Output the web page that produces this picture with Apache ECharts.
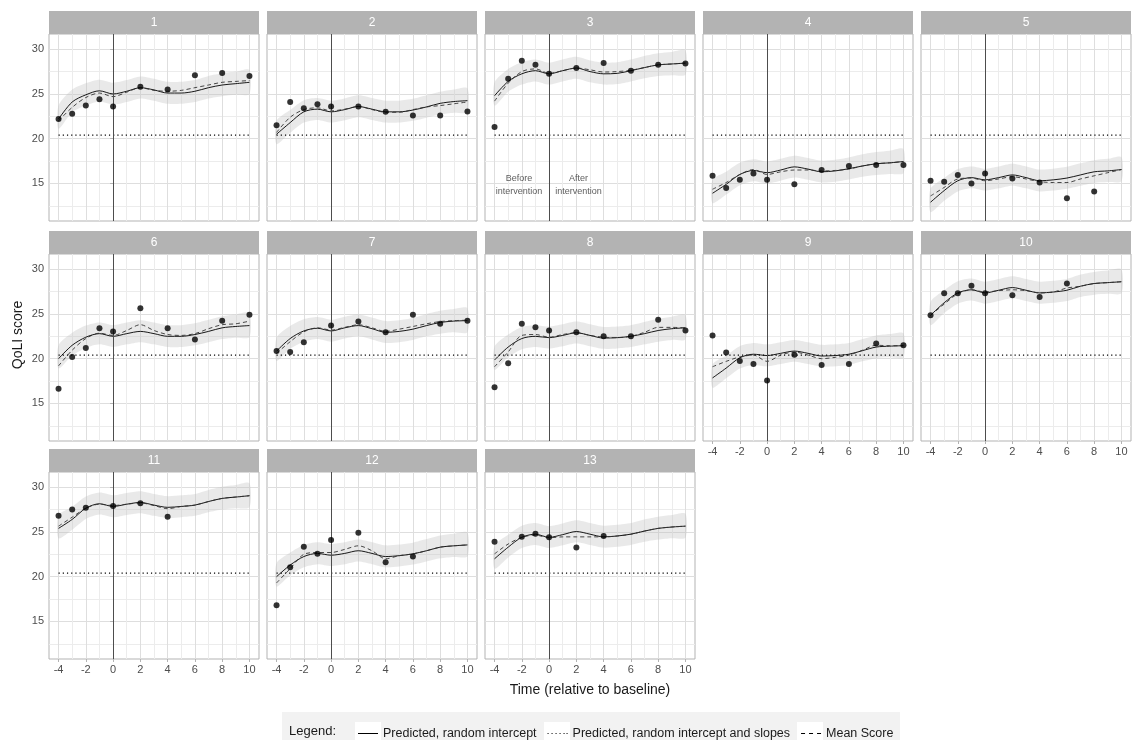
<!DOCTYPE html>
<html>
<head>
<meta charset="utf-8">
<script src="https://cdn.jsdelivr.net/npm/echarts@6/dist/echarts.min.js"></script>
<style>
  html, body { margin: 0; padding: 0; background: #fff; }
  #chart { width: 1132px; height: 740px; }
</style>
</head>
<body>
<div id="chart"></div>
<script>
// facet labels and time grid
const panels = ['1', '2', '3', '4', '5', '6', '7', '8', '9', '10', '11', '12', '13'];
const times = [-4, -3, -2, -1, 0, 1, 2, 3, 4, 5, 6, 7, 8, 9, 10];
const xMajor = [-4, -2, 0, 2, 4, 6, 8, 10];
const xMinor = [-3, -1, 1, 3, 5, 7, 9];
const yMajor = [15, 20, 25, 30];
const yMinor = [12.5, 17.5, 22.5, 27.5];

// Predicted, random intercept (solid)
const predRI = [
  [22.2, 24.1, 24.9, 25.35, 25.0, 25.3, 25.7, 25.45, 25.1, 25.1, 25.3, 25.7, 26.0, 26.15, 26.3],
  [20.5, 21.8, 23.0, 23.3, 23.0, 23.25, 23.6, 23.3, 23.0, 23.0, 23.2, 23.55, 23.95, 24.15, 24.25],
  [24.8, 26.4, 27.25, 27.6, 27.25, 27.6, 27.9, 27.5, 27.25, 27.3, 27.6, 27.95, 28.25, 28.35, 28.45],
  [13.9, 14.9, 16.0, 16.45, 16.2, 16.5, 16.85, 16.6, 16.3, 16.4, 16.65, 16.95, 17.2, 17.3, 17.45],
  [12.9, 14.2, 15.3, 15.65, 15.4, 15.65, 15.95, 15.65, 15.3, 15.4, 15.6, 15.95, 16.3, 16.4, 16.55],
  [20.0, 21.5, 22.4, 22.8, 22.5, 22.8, 23.05, 22.8, 22.5, 22.5, 22.7, 23.05, 23.45, 23.6, 23.7],
  [20.85, 22.25, 23.1, 23.4, 23.1, 23.45, 23.7, 23.35, 22.95, 23.05, 23.3, 23.7, 24.05, 24.2, 24.25],
  [19.85, 21.3, 22.25, 22.5, 22.35, 22.6, 22.9, 22.6, 22.3, 22.35, 22.5, 22.8, 23.15, 23.35, 23.45],
  [17.85, 18.95, 20.1, 20.5, 20.35, 20.6, 20.85, 20.6, 20.3, 20.35, 20.5, 20.9, 21.3, 21.4, 21.45],
  [24.85, 26.25, 27.35, 27.7, 27.35, 27.65, 27.95, 27.65, 27.35, 27.45, 27.65, 28.1, 28.4, 28.5, 28.6],
  [25.4, 26.4, 27.65, 28.15, 27.85, 28.1, 28.3, 28.0, 27.75, 27.85, 28.0, 28.4, 28.75, 28.9, 29.05],
  [20.0, 21.3, 22.25, 22.6, 22.4, 22.6, 22.9, 22.6, 22.25, 22.35, 22.55, 22.9, 23.3, 23.45, 23.55],
  [22.0, 23.3, 24.4, 24.75, 24.4, 24.7, 25.05, 24.75, 24.45, 24.55, 24.75, 25.1, 25.4, 25.55, 25.65]
];

// dashed curve
const predRIS = [
  [22.0, 23.5, 24.6, 25.1, 24.7, 25.2, 25.7, 25.4, 25.3, 25.4, 25.7, 26.0, 26.3, 26.4, 26.5],
  [20.7, 22.4, 23.25, 23.45, 23.1, 23.3, 23.6, 23.25, 22.95, 22.95, 23.25, 23.55, 23.7, 23.9, 24.1],
  [24.2, 26.2, 27.5, 27.8, 27.3, 27.6, 27.9, 27.7, 27.45, 27.5, 27.65, 27.95, 28.25, 28.35, 28.45],
  [14.35, 15.1, 16.0, 16.55, 16.0, 16.3, 16.5, 16.5, 16.4, 16.45, 16.6, 16.95, 17.2, 17.3, 17.45],
  [13.6, 14.55, 15.5, 15.6, 15.3, 15.5, 15.75, 15.5, 15.2, 15.1, 15.1, 15.5, 15.85, 16.2, 16.55],
  [19.2, 20.95, 22.25, 22.85, 22.6, 23.15, 23.8, 23.15, 22.7, 22.6, 22.8, 23.35, 23.8, 23.9, 24.2],
  [20.6, 21.9, 23.0, 23.45, 23.2, 23.5, 23.8, 23.45, 23.05, 23.3, 23.6, 23.9, 24.15, 24.25, 24.3],
  [19.1, 20.75, 22.6, 22.7, 22.4, 22.7, 22.9, 22.6, 22.4, 22.35, 22.5, 22.95, 23.5, 23.5, 23.45],
  [19.1, 19.7, 20.2, 20.4, 19.7, 20.4, 20.75, 20.4, 20.0, 20.15, 20.4, 20.95, 21.5, 21.45, 21.45],
  [24.85, 26.1, 27.25, 27.7, 27.45, 27.6, 27.7, 27.6, 27.35, 27.45, 27.9, 28.1, 28.4, 28.5, 28.6],
  [25.65, 26.65, 27.65, 28.1, 27.95, 28.1, 28.25, 27.95, 27.6, 27.85, 28.0, 28.4, 28.75, 28.9, 29.05],
  [19.3, 20.9, 22.5, 22.7, 22.7, 23.05, 23.45, 22.9, 22.0, 22.35, 22.55, 22.9, 23.3, 23.45, 23.55],
  [22.55, 23.65, 24.4, 24.65, 24.35, 24.45, 24.45, 24.45, 24.45, 24.55, 24.75, 25.1, 25.4, 25.55, 25.65]
];

// confidence band, relative to the solid curve
const ribbonLo = [-1.1, -1.15, -1.2, -1.2, -1.2, -1.2, -1.2, -1.2, -1.2, -1.2, -1.2, -1.2, -1.25, -1.25, -1.3];
const ribbonHi = [1.5, 1.4, 1.3, 1.25, 1.25, 1.25, 1.25, 1.25, 1.25, 1.25, 1.25, 1.3, 1.3, 1.35, 1.4];

// observed scores
const obsTimes = [
  [-4, -3, -2, -1, 0, 2, 4, 6, 8, 10],
  [-4, -3, -2, -1, 0, 2, 4, 6, 8, 10],
  [-4, -3, -2, -1, 0, 2, 4, 6, 8, 10],
  [-4, -3, -2, -1, 0, 2, 4, 6, 8, 10],
  [-4, -3, -2, -1, 0, 2, 4, 6, 8],
  [-4, -3, -2, -1, 0, 2, 4, 6, 8, 10],
  [-4, -3, -2, 0, 2, 4, 6, 8, 10],
  [-4, -3, -2, -1, 0, 2, 4, 6, 8, 10],
  [-4, -3, -2, -1, 0, 2, 4, 6, 8, 10],
  [-4, -3, -2, -1, 0, 2, 4, 6],
  [-4, -3, -2, 0, 2, 4],
  [-4, -3, -2, -1, 0, 2, 4, 6],
  [-4, -2, -1, 0, 2, 4]
];
const obsScores = [
  [22.2, 22.8, 23.7, 24.4, 23.6, 25.8, 25.5, 27.1, 27.35, 27.0],
  [21.5, 24.1, 23.4, 23.85, 23.6, 23.6, 23.0, 22.6, 22.6, 23.05],
  [21.3, 26.7, 28.7, 28.25, 27.25, 27.9, 28.45, 27.6, 28.25, 28.4],
  [15.85, 14.5, 15.4, 16.1, 15.4, 14.9, 16.5, 16.95, 17.05, 17.05],
  [15.3, 15.2, 15.95, 15.0, 16.1, 15.55, 15.1, 13.35, 14.1],
  [16.65, 20.2, 21.2, 23.4, 23.05, 25.65, 23.4, 22.15, 24.25, 24.9],
  [20.85, 20.75, 21.85, 23.7, 24.15, 22.95, 24.9, 23.9, 24.25],
  [16.8, 19.5, 23.9, 23.5, 23.15, 22.95, 22.5, 22.5, 24.35, 23.15],
  [22.6, 20.7, 19.75, 19.4, 17.55, 20.45, 19.3, 19.4, 21.7, 21.5],
  [24.85, 27.3, 27.3, 28.15, 27.3, 27.1, 26.9, 28.4],
  [26.8, 27.5, 27.7, 27.9, 28.2, 26.7],
  [16.8, 21.05, 23.35, 22.55, 24.1, 24.9, 21.6, 22.25],
  [23.9, 24.45, 24.8, 24.4, 23.25, 24.55]
];

// horizontal dotted reference and intervention start
const refTimes = [-4, 10];
const refScore = 20.4;
const interventionTime = 0;

// annotations in panel 3
const annoTexts = ['Before\nintervention', 'After\nintervention'];
const annoTimes = [-2.2, 2.15];
const annoScore = 14.8;

const legendNames = ['Predicted, random intercept', 'Predicted, random intercept and slopes', 'Mean Score'];
const legendIcons = [
  'path://M0,0h20v1h-20z',
  'path://M0,0h1v1h-1zM4,0h1v1h-1zM8,0h1v1h-1zM12,0h1v1h-1zM16,0h1v1h-1zM19,0h1v1h-1z',
  'path://M0,0h4v1h-4zM8,0h4v1h-4zM16,0h4v1h-4z'
];

const FONT = '"Liberation Sans", Arial, sans-serif';
const colLeft = [49, 267, 485, 703, 921];
const rowTop = [34, 254, 472];
const PW = 210, PH = 187, STRIP = 23;

const grids = [], xAxes = [], yAxes = [], series = [], graphics = [];

panels.forEach((label, i) => {
  const col = i % 5, row = Math.floor(i / 5);
  const left = colLeft[col], top = rowTop[row];
  const showX = i >= 8;
  const showY = col === 0;

  grids.push({ left: left, top: top, width: PW, height: PH, show: true,
    borderColor: '#b3b3b3', borderWidth: 1, backgroundColor: 'transparent' });

  xAxes.push({
    gridIndex: i, type: 'value', min: -4.7, max: 10.7, position: 'bottom',
    axisLine: { show: false },
    axisTick: { show: showX, length: 3, lineStyle: { color: '#b3b3b3' }, customValues: xMajor },
    axisLabel: { show: showX, customValues: xMajor, color: '#4d4d4d', fontSize: 11, margin: 5, fontFamily: FONT },
    splitLine: { show: true, lineStyle: { color: '#dedede', width: 1 } }
  });
  xAxes.push({
    gridIndex: i, type: 'value', min: -4.7, max: 10.7, position: 'bottom',
    axisLine: { show: false },
    axisTick: { show: false, customValues: xMinor },
    axisLabel: { show: false, customValues: xMinor },
    splitLine: { show: true, lineStyle: { color: '#ececec', width: 1 } }
  });
  yAxes.push({
    gridIndex: i, type: 'value', min: 10.8, max: 31.7, position: 'left',
    axisLine: { show: false },
    axisTick: { show: showY, length: 3, lineStyle: { color: '#b3b3b3' }, customValues: yMajor },
    axisLabel: { show: showY, customValues: yMajor, color: '#4d4d4d', fontSize: 11, margin: 5, fontFamily: FONT },
    splitLine: { show: true, lineStyle: { color: '#dedede', width: 1 } }
  });
  yAxes.push({
    gridIndex: i, type: 'value', min: 10.8, max: 31.7, position: 'left',
    axisLine: { show: false },
    axisTick: { show: false, customValues: yMinor },
    axisLabel: { show: false, customValues: yMinor },
    splitLine: { show: true, lineStyle: { color: '#ececec', width: 1 } }
  });

  const xi = 2 * i, yi = 2 * i;
  const solid = predRI[i];
  const band = times.map((t, k) => [t, solid[k] + ribbonLo[k], solid[k] + ribbonHi[k]]);

  // ribbon drawn as one polygon through the axis scales
  series.push({
    type: 'custom', xAxisIndex: xi, yAxisIndex: yi, silent: true, z: 1,
    encode: { x: 0, y: [1, 2] },
    data: band,
    renderItem: (params, api) => {
      if (params.dataIndex !== 0) return null;
      const upper = band.map(d => api.coord([d[0], d[2]]));
      const lower = band.map(d => api.coord([d[0], d[1]])).reverse();
      return {
        type: 'polygon',
        shape: { points: upper.concat(lower), smooth: 0.25 },
        style: { fill: 'rgba(190,190,190,0.34)' }
      };
    }
  });

  series.push({
    name: legendNames[0], type: 'line', xAxisIndex: xi, yAxisIndex: yi,
    symbol: 'none', smooth: 0.3, z: 4,
    lineStyle: { color: '#000', width: 0.9, type: 'solid' }, itemStyle: { color: '#000' },
    data: times.map((t, k) => [t, solid[k]]),
    markLine: {
      silent: true, symbol: ['none', 'none'], label: { show: false },
      lineStyle: { color: '#4d4d4d', width: 1, type: 'solid' },
      data: [{ xAxis: interventionTime }]
    }
  });
  series.push({
    name: legendNames[1], type: 'line', xAxisIndex: xi, yAxisIndex: yi,
    symbol: 'none', z: 3,
    lineStyle: { color: '#000', width: 1.2, type: [1.2, 3] }, itemStyle: { color: '#000' },
    data: refTimes.map(t => [t, refScore])
  });
  series.push({
    name: legendNames[2], type: 'line', xAxisIndex: xi, yAxisIndex: yi,
    symbol: 'none', smooth: 0.3, z: 4,
    lineStyle: { color: '#333', width: 0.9, type: [4, 3] }, itemStyle: { color: '#000' },
    data: times.map((t, k) => [t, predRIS[i][k]])
  });
  series.push({
    type: 'scatter', xAxisIndex: xi, yAxisIndex: yi, symbolSize: 6, z: 5,
    itemStyle: { color: '#000' },
    data: obsTimes[i].map((t, k) => [t, obsScores[i][k]])
  });

  if (i === 2) {
    series.push({
      type: 'scatter', xAxisIndex: xi, yAxisIndex: yi, symbolSize: 0, silent: true,
      label: { show: true, position: 'inside', formatter: p => p.name,
        fontSize: 9, lineHeight: 13, color: '#333', fontFamily: FONT, align: 'center' },
      data: annoTexts.map((txt, k) => ({ name: txt, value: [annoTimes[k], annoScore] }))
    });
  }

  // facet strip
  graphics.push({ type: 'rect', shape: { x: left, y: top - STRIP, width: PW, height: STRIP },
    style: { fill: '#b3b3b3' }, silent: true });
  graphics.push({ type: 'text', x: left + PW / 2, y: top - STRIP / 2,
    style: { text: label, fill: '#ffffff', font: '12px ' + FONT, textAlign: 'center', textVerticalAlign: 'middle' } });
});

// axis titles
graphics.push({ type: 'text', x: 18, y: 335, rotation: Math.PI / 2,
  style: { text: 'QoLI score', fill: '#1a1a1a', font: '14px ' + FONT, textAlign: 'center', textVerticalAlign: 'middle' } });
graphics.push({ type: 'text', x: 590, y: 690,
  style: { text: 'Time (relative to baseline)', fill: '#1a1a1a', font: '14px ' + FONT, textAlign: 'center', textVerticalAlign: 'middle' } });

// legend box
graphics.push({ type: 'rect', z: -1, shape: { x: 282, y: 712, width: 618, height: 30 }, style: { fill: '#f2f2f2' }, silent: true });
graphics.push({ type: 'text', x: 289, y: 731,
  style: { text: 'Legend:', fill: '#1a1a1a', font: '13px ' + FONT, textAlign: 'left', textVerticalAlign: 'middle' } });
[355, 544, 797].forEach(x => {
  graphics.push({ type: 'rect', z: -1, shape: { x: x, y: 722, width: 26, height: 18 }, style: { fill: '#ffffff' }, silent: true });
});

const chart = echarts.init(document.getElementById('chart'), null, { renderer: 'canvas' });
chart.setOption({
  animation: false,
  textStyle: { fontFamily: FONT },
  grid: grids,
  xAxis: xAxes,
  yAxis: yAxes,
  series: series,
  legend: {
    data: legendNames.map((n, k) => ({ name: n, icon: legendIcons[k] })),
    left: 353, top: 722, itemWidth: 20, itemHeight: 1.2, itemGap: 11,
    textStyle: { fontSize: 12.5, color: '#1a1a1a', fontFamily: FONT }
  },
  graphic: graphics
});
</script>
</body>
</html>
